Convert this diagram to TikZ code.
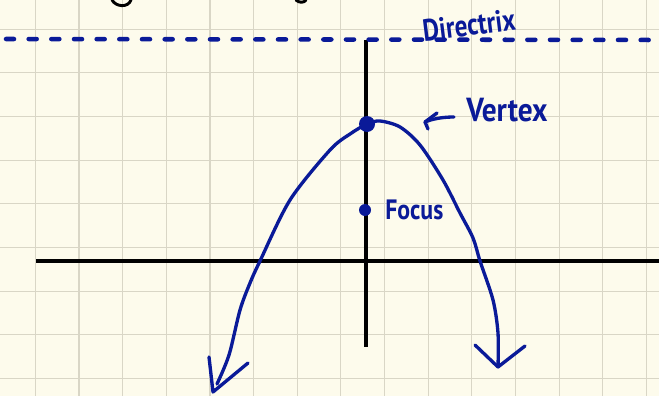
\documentclass[tikz,border=0pt]{standalone}
\usepackage{fontspec}
\setmainfont{PT Sans}
\definecolor{bg}{HTML}{FDFBEC}
\definecolor{gridc}{HTML}{D9D6C6}
\definecolor{ink}{HTML}{0A1A98}
\tikzset{
  gridline/.style={gridc, line width=0.9pt},
  axisline/.style={black, line width=2.4pt},
  curve/.style={ink, line width=2.5pt, line cap=round, line join=round},
  dirline/.style={ink, line width=3.4pt, line cap=round, dash pattern=on 6pt off 11pt},
  hand/.style={ink, inner sep=0pt},
  dotnode/.style={circle, fill=ink, inner sep=0pt},
  scrap/.style={black, line width=2.2pt, line cap=round}
}
\begin{document}
\begin{tikzpicture}[x=0.75pt, y=-0.75pt]
\fill[bg] (0,0) rectangle (659,396);
\useasboundingbox (0,0) rectangle (659,396);
% grid
\foreach \k in {0,...,14} { \draw[gridline] ({35.3+43.65*\k},0) -- ({35.3+43.65*\k},396); }
\foreach \k in {0,...,8} { \draw[gridline] (0,{29.2+43.65*\k}) -- (659,{29.2+43.65*\k}); }
% cut-off strokes at top
\draw[scrap] (112,0) .. controls (116,7) and (128,8) .. (131,0);
\draw[scrap] (296,0) .. controls (299,3) and (304,3) .. (306,0);
% axes
\coordinate (xl) at (36,261);
\coordinate (xr) at (659,261);
\coordinate (yt) at (366,40);
\coordinate (yb) at (366,347);
\draw[axisline] (xl) -- (xr);
\draw[axisline] (yt) -- (yb);
% directrix
\coordinate (dl) at (6,39);
\coordinate (dr) at (659,40);
\draw[dirline] (dl) -- (dr);
\node[hand, rotate=7] (dirlab) at (469,25) {\scalebox{0.82}[1]{\bfseries\fontsize{23}{23}\selectfont Directrix}};
% parabola
\draw[curve] plot[smooth, tension=0.5] coordinates {(217,384) (229,355) (240,310) (250,283) (260,261) (290,200) (330,150) (350,134) (367,124) (380,121) (400,127) (420,145) (443,180) (460,213) (473,238) (480,261) (493,300) (498,333) (498,367)};
% arrowheads
\coordinate (ltip) at (213,392);
\coordinate (lb1) at (209,357);
\coordinate (lb2) at (248,363);
\draw[curve] (lb1) -- (ltip) -- (lb2);
\coordinate (rtip) at (498,367);
\coordinate (rb1) at (475,345);
\coordinate (rb2) at (525,346);
\draw[curve] (rb1) -- (rtip) -- (rb2);
% points
\node[dotnode, minimum size=12pt] (vertex) at (367,124) {};
\node[dotnode, minimum size=9pt] (focus) at (365,210) {};
% labels
\node[hand, anchor=west] (vlab) at (466,110) {\scalebox{0.88}[1]{\bfseries\fontsize{25}{25}\selectfont Vertex}};
\node[hand, anchor=west] (flab) at (385,210) {\scalebox{0.85}[1]{\bfseries\fontsize{21}{21}\selectfont Focus}};
% vertex pointer
\coordinate (vtail) at (454,117);
\coordinate (vtip) at (425,122);
\draw[curve] (vtail) .. controls (442,117) and (432,119) .. (vtip);
\draw[curve] (437,113) -- (vtip) -- (428,129);
\end{tikzpicture}
\end{document}
